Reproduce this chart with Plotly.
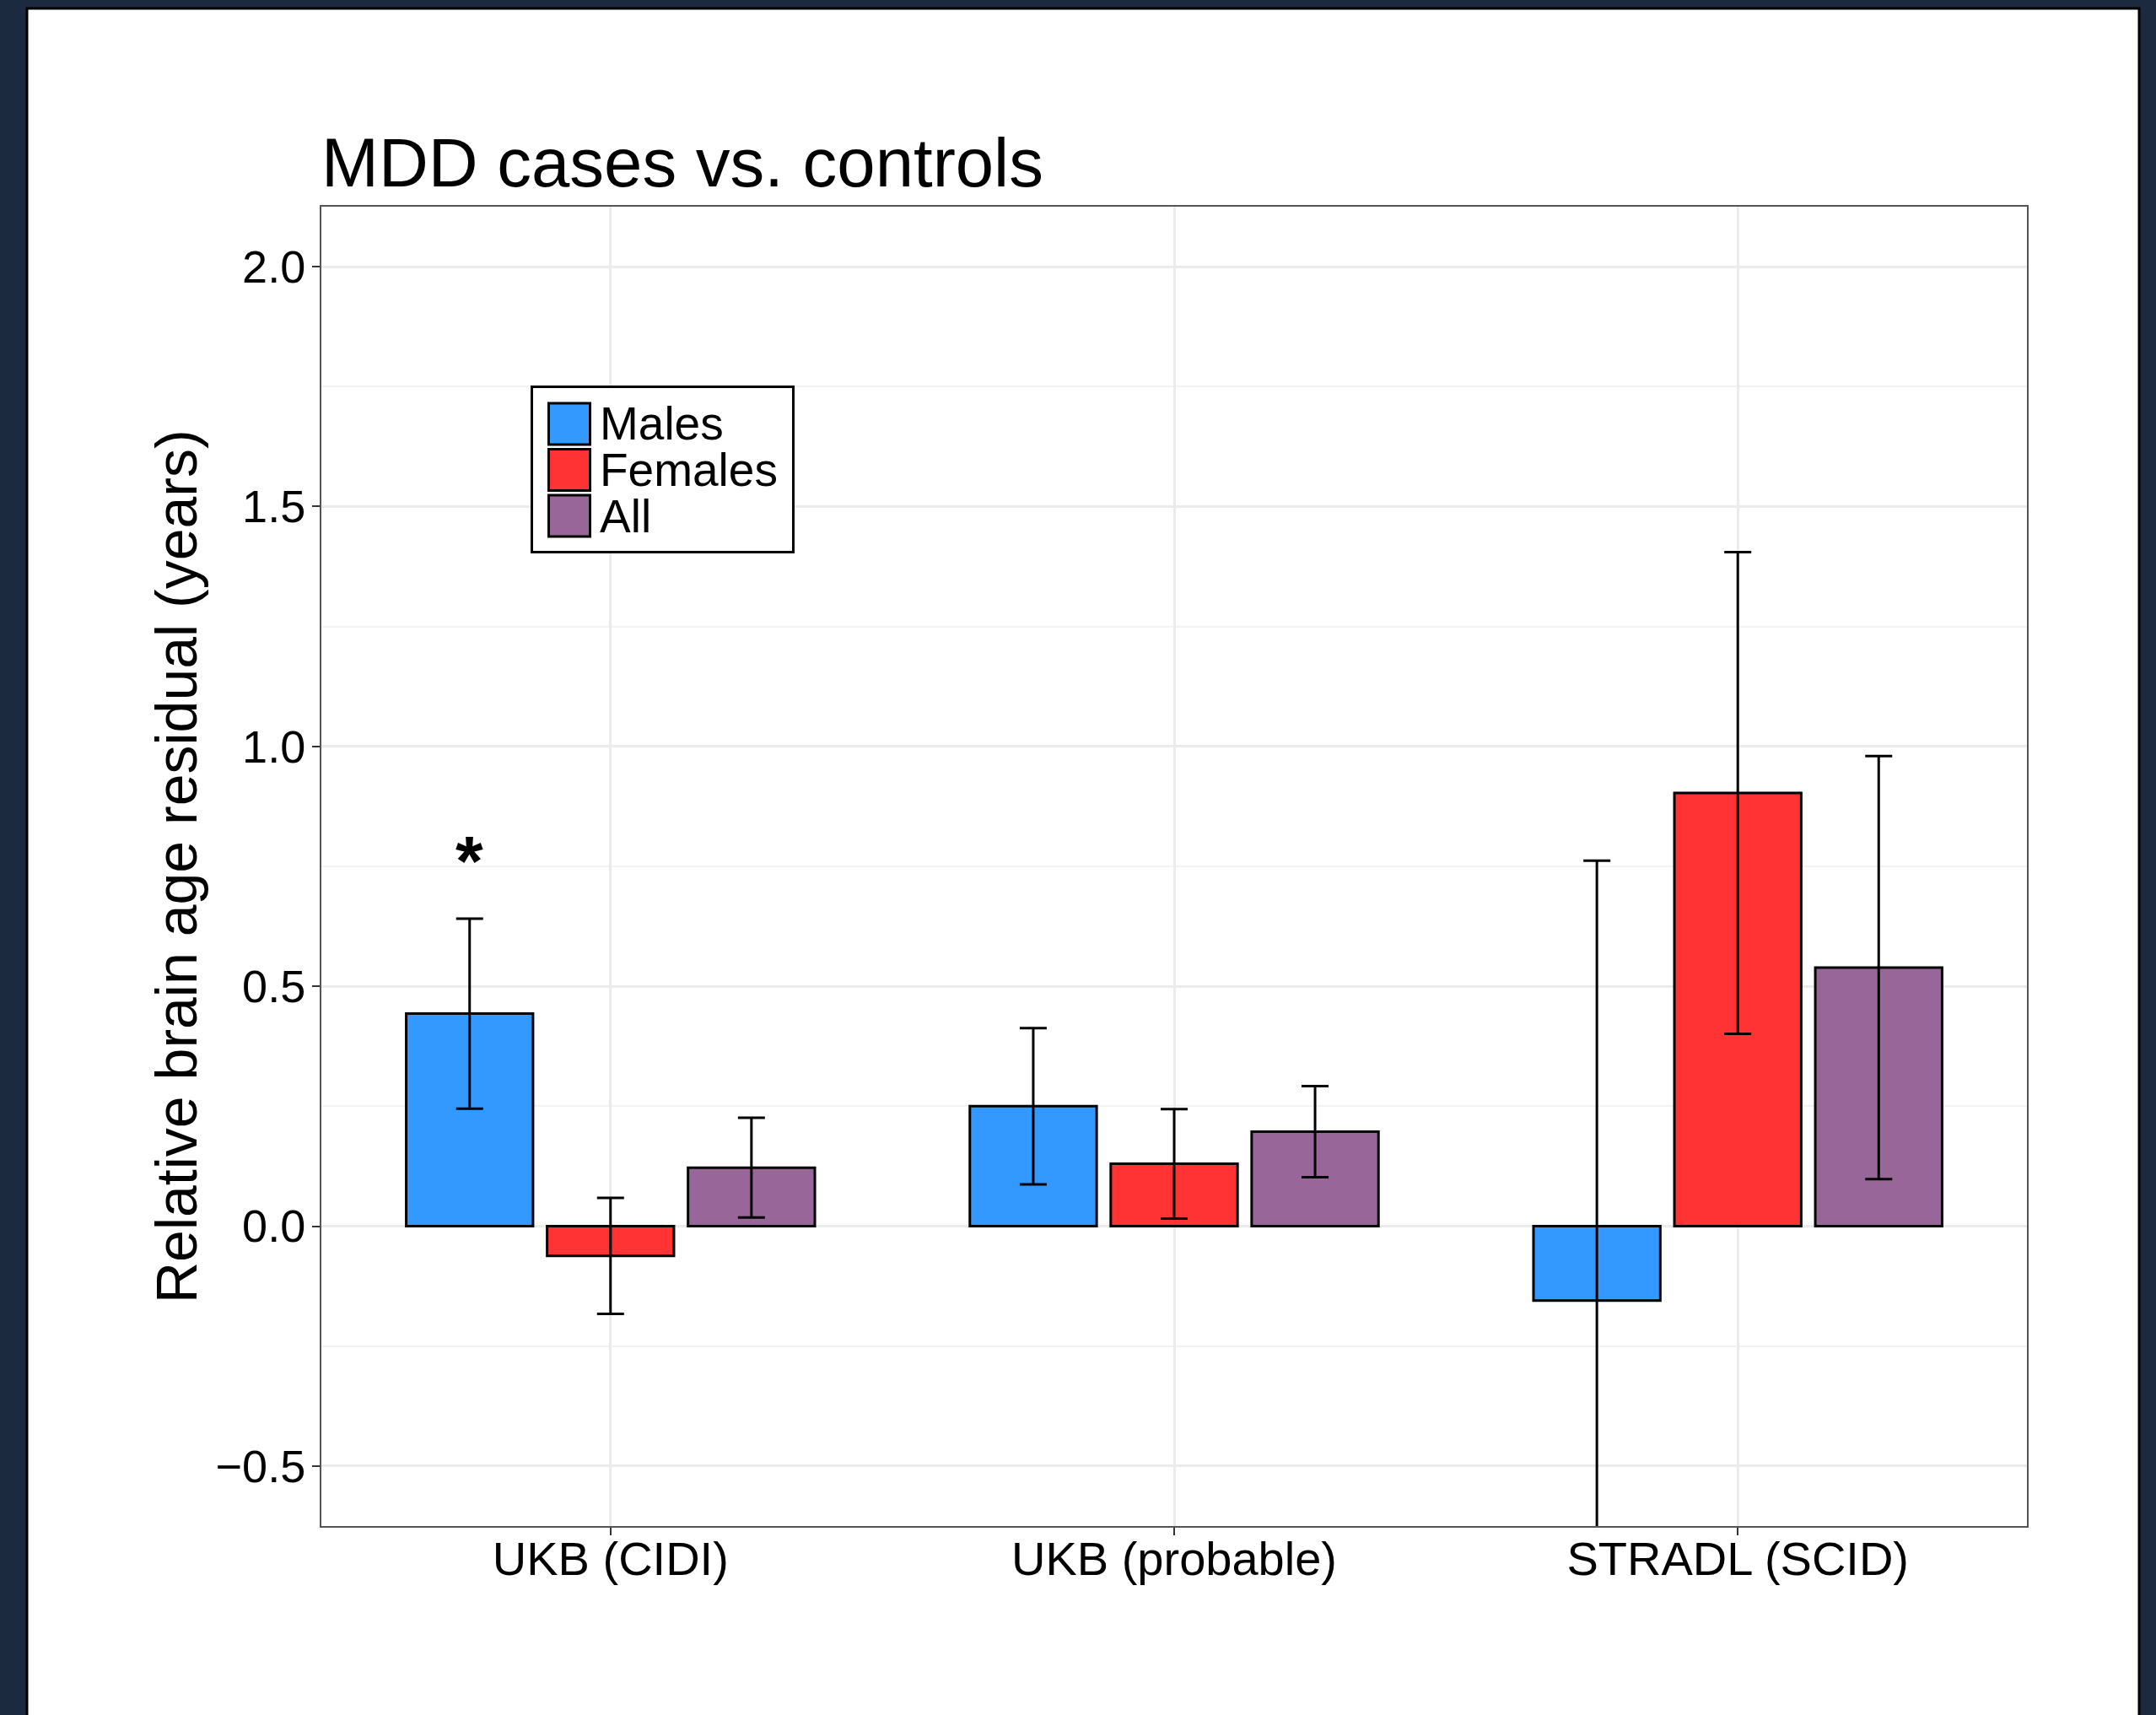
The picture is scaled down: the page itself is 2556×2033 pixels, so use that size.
import plotly.graph_objects as go

# ---------------- data ----------------
categories = ["UKB (CIDI)", "UKB (probable)", "STRADL (SCID)"]
series_names = ["Males", "Females", "All"]
males = [0.443, 0.250, -0.155]
males_err = [0.198, 0.163, 0.917]
females = [-0.062, 0.130, 0.903]
females_err = [0.121, 0.114, 0.502]
all_groups = [0.122, 0.197, 0.539]
all_err = [0.104, 0.095, 0.441]
colors = ["#3399FF", "#FF3333", "#996699"]
y_tick_vals = [-0.5, 0.0, 0.5, 1.0, 1.5, 2.0]
y_tick_text = ["\u22120.5", "0.0", "0.5", "1.0", "1.5", "2.0"]
star_category = "UKB (CIDI)"
star_series = "Males"
star_y = 0.775

values = [males, females, all_groups]
errors = [males_err, females_err, all_err]

# ---------------- layout constants ----------------
W, H = 2556, 2033
ML, MR, MT, MB = 381, 153, 245, 224
PW = W - ML - MR
PH = H - MT - MB
X_RANGE = [-0.513, 2.513]
Y_RANGE = [-0.625, 2.125]
BARGAP = 0.25
FONT = "Liberation Sans, Arial, Helvetica, sans-serif"
NAVY = "#1c2a40"


def px_x(px):
    return (px - ML) / PW


def px_y(py):
    return (H - MB - py) / PH


fig = go.Figure()
for name, vals, errs, col in zip(series_names, values, errors, colors):
    fig.add_trace(go.Bar(
        x=categories, y=vals, name=name,
        marker=dict(color=col, line=dict(color="black", width=3)),
        error_y=dict(type="data", array=errs, visible=True,
                     color="black", thickness=3, width=16),
        showlegend=False,
    ))

shapes = []
# white page with black edge over navy background
shapes.append(dict(type="rect", xref="paper", yref="paper", layer="below",
                   x0=px_x(32), x1=px_x(2536), y0=px_y(2060), y1=px_y(10),
                   fillcolor="white", line=dict(color="black", width=3)))

annotations = []
# asterisk
px_per_unit = PW / (X_RANGE[1] - X_RANGE[0])
slot = (1 - BARGAP) / len(series_names)
s_idx = series_names.index(star_series)
annotations.append(dict(
    x=star_category, y=star_y, xref="x", yref="y", text="<b>*</b>", showarrow=False,
    xshift=(s_idx - (len(series_names) - 1) / 2) * slot * px_per_unit,
    yshift=-8,
    font=dict(family=FONT, size=84, color="black"), yanchor="middle", xanchor="center"))

# title as annotation
annotations.append(dict(x=px_x(379), y=px_y(193), xref="paper", yref="paper",
                        text="MDD cases vs. controls", showarrow=False,
                        xanchor="left", yanchor="middle",
                        font=dict(family=FONT, size=81.5, color="black")))

# y-axis title as annotation
annotations.append(dict(x=px_x(209), y=0.5, xref="paper", yref="paper",
                        text="Relative brain age residual (years)", showarrow=False,
                        textangle=-90, xanchor="center", yanchor="middle",
                        font=dict(family=FONT, size=68, color="black")))

# custom legend
box = (630.5, 940.5, 458.5, 654.5)
shapes.append(dict(type="rect", xref="paper", yref="paper",
                   x0=px_x(box[0]), x1=px_x(box[1]), y0=px_y(box[3]), y1=px_y(box[2]),
                   fillcolor="white", line=dict(color="black", width=3), layer="above"))
key_centers = [502.5, 557.0, 611.5]
for name, col, cy in zip(series_names, colors, key_centers):
    shapes.append(dict(type="rect", xref="paper", yref="paper", layer="above",
                       x0=px_x(650.5), x1=px_x(699.5), y0=px_y(cy + 24.5), y1=px_y(cy - 24.5),
                       fillcolor=col, line=dict(color="black", width=3)))
    annotations.append(dict(x=px_x(709), y=px_y(cy), xref="paper", yref="paper",
                            text=name, showarrow=False, xanchor="left", yanchor="middle",
                            font=dict(family=FONT, size=55, color="black")))

fig.update_layout(
    width=W, height=H,
    margin=dict(l=ML, r=MR, t=MT, b=MB, pad=0),
    paper_bgcolor=NAVY, plot_bgcolor="white",
    barmode="group", bargap=BARGAP, bargroupgap=0.1,
    font=dict(family=FONT, color="black"),
    shapes=shapes, annotations=annotations,
    showlegend=False,
)
fig.update_xaxes(
    type="category", range=X_RANGE,
    showgrid=True, gridcolor="#EBEBEB", gridwidth=2.5,
    ticks="outside", ticklen=9, tickwidth=2, tickcolor="#333333",
    tickfont=dict(family=FONT, size=56, color="black"),
    ticklabelstandoff=-20,
    showline=True, linecolor="#555555", linewidth=2, mirror=True,
    zeroline=False, fixedrange=True,
)
fig.update_yaxes(
    range=Y_RANGE, tickvals=y_tick_vals, ticktext=y_tick_text,
    showgrid=True, gridcolor="#EBEBEB", gridwidth=2.5,
    minor=dict(tickvals=[v + 0.25 for v in y_tick_vals[:-1]] + [-0.75],
               showgrid=True, gridcolor="#F2F2F2", gridwidth=1.5, ticks=""),
    ticks="outside", ticklen=9, tickwidth=2, tickcolor="#333333",
    tickfont=dict(family=FONT, size=54, color="black"),
    ticklabelstandoff=-3,
    showline=True, linecolor="#555555", linewidth=2, mirror=True,
    zeroline=False,
)

fig.write_html("out.html")
